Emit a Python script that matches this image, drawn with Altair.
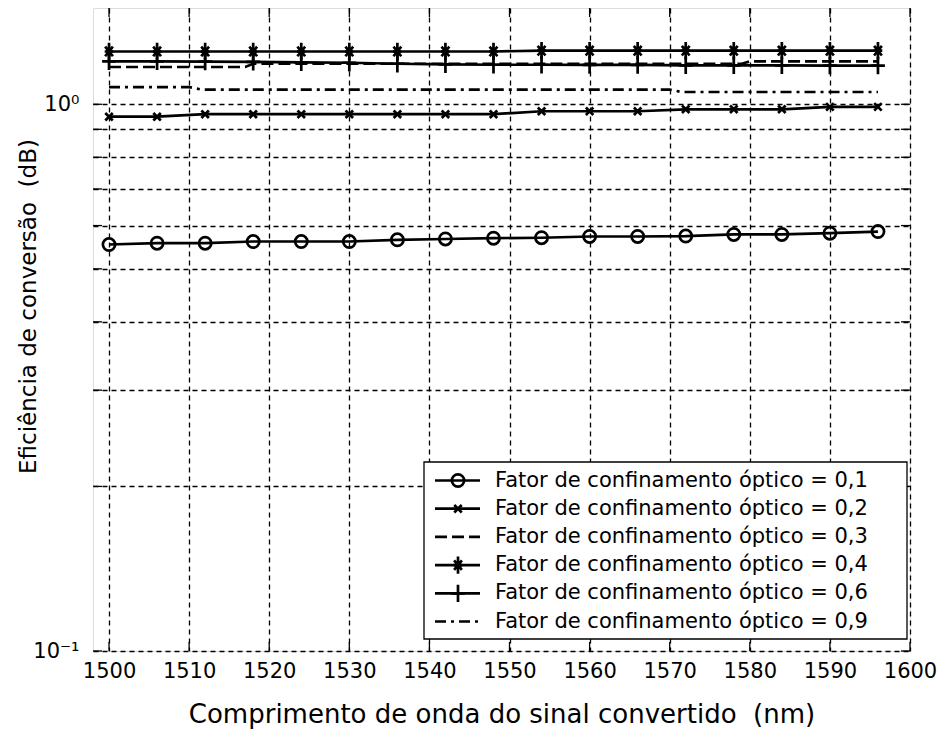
import altair as alt
import pandas as pd

# ---------------- data ----------------
wavelength = [1500, 1506, 1512, 1518, 1524, 1530, 1536, 1542, 1548,
              1554, 1560, 1566, 1572, 1578, 1584, 1590, 1596]

eff_01 = [0.554, 0.557, 0.557, 0.561, 0.561, 0.561, 0.565, 0.567, 0.569,
          0.570, 0.573, 0.573, 0.574, 0.578, 0.578, 0.581, 0.585]
eff_02 = [0.949, 0.949, 0.959, 0.959, 0.959, 0.959, 0.959, 0.959, 0.959,
          0.971, 0.971, 0.971, 0.979, 0.979, 0.979, 0.989, 0.989]
eff_04 = [1.249, 1.249, 1.249, 1.249, 1.249, 1.249, 1.249, 1.249, 1.249,
          1.253, 1.253, 1.253, 1.253, 1.253, 1.253, 1.253, 1.253]
eff_06 = [1.198, 1.198, 1.197, 1.196, 1.193, 1.191, 1.186, 1.183, 1.181,
          1.181, 1.180, 1.180, 1.178, 1.178, 1.178, 1.177, 1.177]

wl_03 = [1500, 1517, 1518, 1579, 1580, 1596]
eff_03 = [1.170, 1.170, 1.186, 1.186, 1.198, 1.198]
wl_09 = [1500, 1510, 1511.5, 1570, 1571.5, 1596]
eff_09 = [1.075, 1.075, 1.064, 1.064, 1.053, 1.053]

labels = [
    "Fator de confinamento óptico = 0,1",
    "Fator de confinamento óptico = 0,2",
    "Fator de confinamento óptico = 0,3",
    "Fator de confinamento óptico = 0,4",
    "Fator de confinamento óptico = 0,6",
    "Fator de confinamento óptico = 0,9",
]

x_ticks = [1500, 1510, 1520, 1530, 1540, 1550, 1560, 1570, 1580, 1590, 1600]
y_ticks = [0.1, 0.2, 0.3, 0.4, 0.5, 0.6, 0.7, 0.8, 0.9, 1.0]

# ---------------- styles ----------------
FONT = "DejaVu Sans"
W, H = 817, 643
LW = 2.7
P_X = "M-1,-1L1,1M-1,1L1,-1"
P_STAR = "M0,-1L0,1M-0.45,-0.55L0.45,0.55M-0.45,0.55L0.45,-0.55M-0.5,0L0.5,0"
P_PLUS = "M0,-1L0,1M-0.8,0L0.8,0"

series = [
    # (x list, y list, dash, shape, size)
    (wavelength, eff_01, None, "circle", 150),
    (wavelength, eff_02, None, P_X, 56),
    (wl_03, eff_03, [12, 5], None, 0),
    (wavelength, eff_04, None, P_STAR, 300),
    (wavelength, eff_06, None, P_PLUS, 300),
    (wl_09, eff_09, [11, 5, 3, 5], None, 0),
]

GRID = dict(grid=True, gridDash=[5, 4], gridColor="black", gridOpacity=1, gridWidth=1.3)

X = alt.X(
    "wl:Q",
    scale=alt.Scale(domain=[1498, 1600], nice=False, zero=False),
    axis=alt.Axis(
        values=x_ticks, format="d", ticks=False, domain=False, **GRID,
        labelFont=FONT, labelFontSize=21, labelColor="black", labelPadding=9,
        labelFlush=False, labelOverlap=False,
        title="Comprimento de onda do sinal convertido\u00a0\u00a0(nm)",
        titleFont=FONT, titleFontSize=26, titleFontWeight="normal", titleColor="black",
        titleY=71, titleBaseline="alphabetic",
    ),
)
Y = alt.Y(
    "eff:Q",
    scale=alt.Scale(type="log", domain=[0.1, 1.5], nice=False),
    axis=alt.Axis(
        values=y_ticks, ticks=False, domain=False, **GRID,
        labelExpr="datum.value > 0.95 ? '10⁰' : (datum.value < 0.15 ? '10⁻¹' : '')",
        labelFont=FONT, labelFontSize=21, labelColor="black", labelPadding=14,
        labelFlush=False, labelOverlap=False,
        title="Eficiência de conversão\u00a0\u00a0(dB)",
        titleFont=FONT, titleFontSize=23, titleFontWeight="normal", titleColor="black",
        titleX=-65, titleY=298, titleAngle=-90, titleAlign="center",
        titleBaseline="middle",
    ),
)

layers = []
for xs, ys, dash, shape, size in series:
    df = pd.DataFrame({"wl": xs, "eff": ys})
    line_kw = dict(color="black", strokeWidth=LW)
    if dash:
        line_kw["strokeDash"] = dash
    layers.append(alt.Chart(df).mark_line(**line_kw).encode(x=X, y=Y))
    if shape:
        layers.append(
            alt.Chart(df).mark_point(shape=shape, size=size, filled=False,
                                     stroke="black", strokeWidth=LW, opacity=1)
            .encode(x=X, y=Y)
        )

# inward ticks (MATLAB style)
TL = 9
xt = pd.DataFrame({"wl": x_ticks})
yt = pd.DataFrame({"eff": y_ticks})
layers.append(alt.Chart(xt).mark_rule(color="black", strokeWidth=1.3)
              .encode(x=X, y=alt.value(H), y2=alt.value(H - TL)))
layers.append(alt.Chart(xt).mark_rule(color="black", strokeWidth=1.3)
              .encode(x=X, y=alt.value(0), y2=alt.value(TL)))
layers.append(alt.Chart(yt).mark_rule(color="black", strokeWidth=1.3)
              .encode(y=Y, x=alt.value(0), x2=alt.value(TL)))
layers.append(alt.Chart(yt).mark_rule(color="black", strokeWidth=1.3)
              .encode(y=Y, x=alt.value(W), x2=alt.value(W - TL)))

# legend box
one = pd.DataFrame({"a": [0]})
layers.append(alt.Chart(one).mark_rect(fill="white", stroke="black", strokeWidth=1.3)
              .encode(x=alt.value(331), x2=alt.value(814),
                      y=alt.value(454), y2=alt.value(631)))
for i, (lab, (xs, ys, dash, shape, size)) in enumerate(zip(labels, series)):
    ry = 472.5 + 28.2 * i
    rk = dict(color="black", strokeWidth=LW)
    if dash:
        rk["strokeDash"] = dash
    layers.append(alt.Chart(one).mark_rule(**rk)
                  .encode(x=alt.value(342), x2=alt.value(387), y=alt.value(ry)))
    if shape:
        layers.append(alt.Chart(one).mark_point(shape=shape, size=size, filled=False,
                                                stroke="black", strokeWidth=LW, opacity=1)
                      .encode(x=alt.value(365), y=alt.value(ry)))
    layers.append(alt.Chart(pd.DataFrame({"label": [lab]}))
                  .mark_text(align="left", baseline="middle", font=FONT, fontSize=21,
                             color="black")
                  .encode(x=alt.value(402), y=alt.value(ry), text="label:N"))

chart = (
    alt.layer(*layers)
    .properties(width=W, height=H,
                padding={"left": 93, "top": 8, "right": 27, "bottom": 79},
                autosize=alt.AutoSizeParams(type="none"))
    .configure_view(stroke="black", strokeWidth=1.5)
    .configure(background="white")
)

chart.save("out.html", embed_options={"renderer": "svg", "actions": False})
